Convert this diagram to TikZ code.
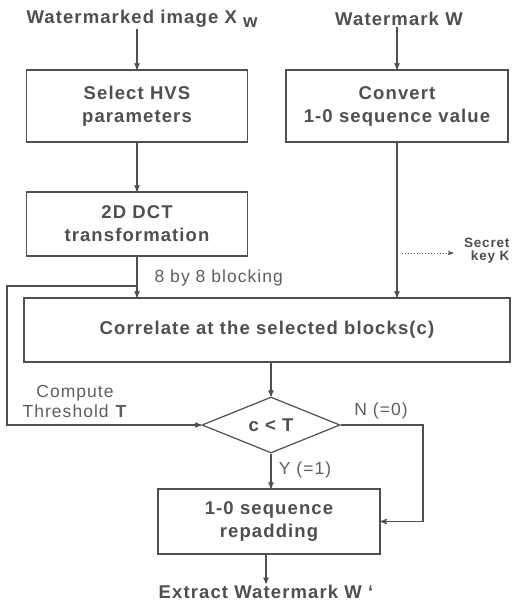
\documentclass[tikz,border=0pt]{standalone}
\usepackage{fontspec}
\setmainfont{Liberation Sans}[LetterSpace=6]
\usetikzlibrary{shapes.geometric, arrows}
\definecolor{inkgray}{HTML}{4F4F4F}
\definecolor{softgray}{HTML}{5E5E5E}
\newcommand{\bigfont}{\fontsize{18.5}{23}\selectfont}

\tikzset{
  block/.style={draw, rectangle, minimum width=221pt, minimum height=64pt,
    inner sep=0pt, align=center, font=\bigfont\bfseries},
  decision/.style={draw, diamond, aspect=2.45, minimum width=138pt,
    minimum height=56pt, inner sep=0pt, font=\bigfont\bfseries},
  heading/.style={font=\bigfont\bfseries, inner sep=1pt},
  note/.style={font=\fontsize{17.5}{20}\selectfont, text=softgray, inner sep=0pt},
  keynote/.style={font=\fontsize{13.5}{13}\selectfont\bfseries, align=right, inner sep=0pt}
}

\begin{document}
\begin{tikzpicture}[x=1pt, y=-1pt, >=stealth', line width=1.2pt, color=inkgray]
    \useasboundingbox[fill=white] (0,0) rectangle (512,601);

    \node[heading] (ximg) at (142,19) {Watermarked image X\,\,\raisebox{-0.35ex}{w}};
    \node[heading] (wm) at (399,19) {Watermark W};
    \node[block, minimum height=72pt] (hvs) at (137,106) {Select HVS\\parameters};
    \node[block, minimum height=72pt, minimum width=222pt] (conv) at (397,106) {Convert\\1-0 sequence value};
    \node[block] (dct) at (137,224) {2D DCT\\transformation};
    \node[block, minimum width=486pt, minimum height=64pt] (corr) at (267,330) {Correlate at the selected blocks(c)};
    \node[decision] (test) at (271,425) {c < T};
    \node[block, minimum width=222pt, minimum height=65pt] (pad) at (269,521.5) {1-0 sequence\\repadding};
    \node[heading] (wout) at (266,592) {Extract Watermark W `};
    \node[keynote, anchor=east] (key) at (510,251) {Secret\\key K};

    \node[note, anchor=west] (blk) at (154,278) {8 by 8 blocking};
    \node[note, align=center] (thr) at (75,401) {Compute\\Threshold \textbf{T}};
    \node[note] (no) at (381,411) {N (=0)};
    \node[note] (yes) at (305,470) {Y (=1)};

    \coordinate (tap) at (137,286);
    \coordinate (lft) at (7,286);
    \coordinate (turn) at (423,425);
    \coordinate (dot) at (402,253);

    \draw[->] (ximg.south -| hvs) -- (hvs.north);
    \draw[->] (wm.south -| conv) -- (conv.north);
    \draw[->] (hvs) -- (dct);
    \draw[->] (dct) -- (dct |- corr.north);
    \draw[->] (conv) -- (conv |- corr.north);
    \draw[->] (tap) -- (lft) |- (test.west);
    \draw[->, dotted, line width=0.9pt, softgray] (dot) -- ([xshift=-10pt]key.west |- dot);
    \draw[->] (corr.south -| test) -- (test.north);
    \draw[->] (test.south) -- (test.south |- pad.north);
    \draw[->] (test.east) -- (turn) |- (pad.east);
    \draw[->] (pad.south -| wout) -- (wout.north);
\end{tikzpicture}
\end{document}
